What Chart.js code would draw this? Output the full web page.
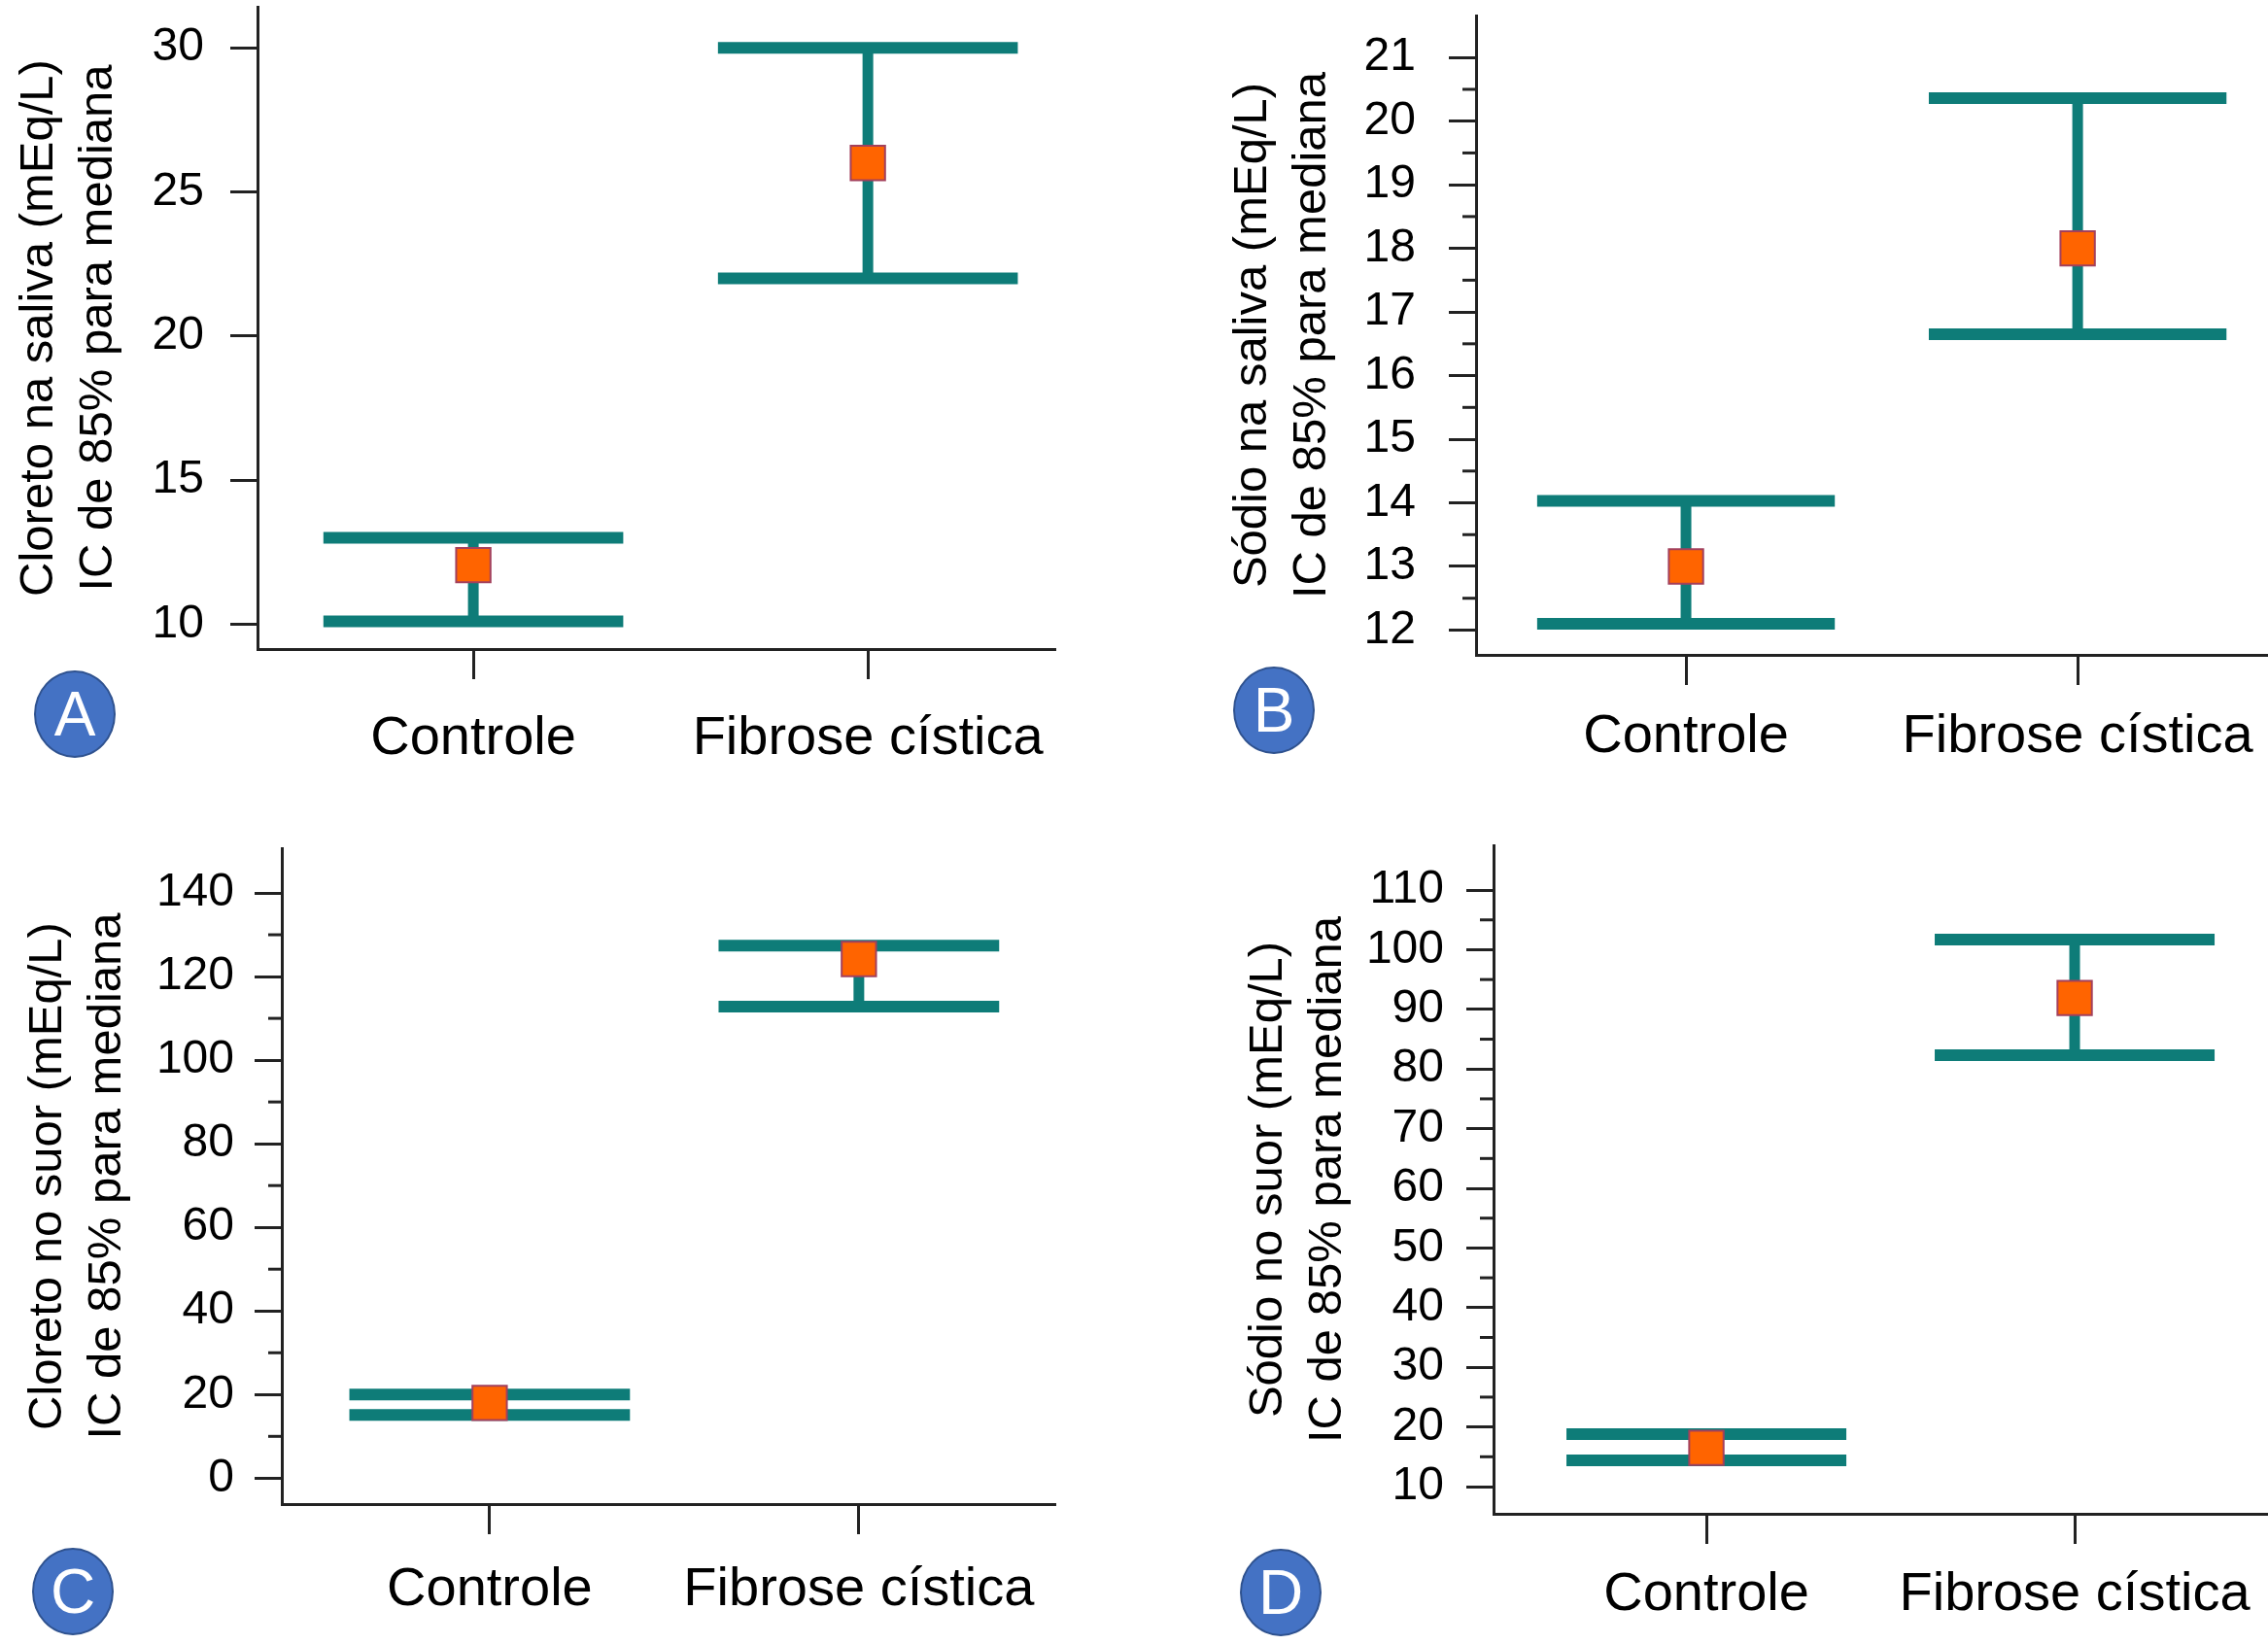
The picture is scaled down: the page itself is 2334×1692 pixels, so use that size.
<!DOCTYPE html>
<html lang="pt">
<head>
<meta charset="UTF-8">
<title>IC de 85% para mediana</title>
<script src="https://cdn.jsdelivr.net/npm/chart.js"></script>
<style>
  html, body { margin: 0; padding: 0; background: #fff; }
  #wrap { position: relative; width: 2334px; height: 1692px; overflow: hidden; }
  canvas { position: absolute; }
  .tag {
    position: absolute; width: 84px; height: 90px; border-radius: 50%;
    background: #4472c4; border: 2px solid #2f528f; box-sizing: border-box;
    color: #fff; font: 64px "Liberation Sans", Arial, sans-serif;
    display: flex; align-items: center; justify-content: center;
  }
</style>
</head>
<body>
<div id="wrap">
  <canvas id="gA" width="1167" height="846" style="left:0;top:0"></canvas>
  <canvas id="gB" width="1167" height="846" style="left:1167px;top:0"></canvas>
  <canvas id="gC" width="1167" height="846" style="left:0;top:846px"></canvas>
  <canvas id="gD" width="1167" height="846" style="left:1167px;top:846px"></canvas>
  <div class="tag" style="left:35px;top:690px">A</div>
  <div class="tag" style="left:1269px;top:686px">B</div>
  <div class="tag" style="left:33px;top:1593px">C</div>
  <div class="tag" style="left:1276px;top:1594px">D</div>
</div>
<script>
    const categorias = ["Controle", "Fibrose cística"];

    // A - cloreto na saliva
    const clSalivaMediana = [12.05, 26.0];
    const clSalivaInferior = [10.1, 22.0];
    const clSalivaSuperior = [13.0, 30.0];
    const ticksA = [10, 15, 20, 25, 30];
    const menoresA = [];

    // B - sodio na saliva
    const naSalivaMediana = [13.0, 18.0];
    const naSalivaInferior = [12.1, 16.65];
    const naSalivaSuperior = [14.03, 20.36];
    const ticksB = [12, 13, 14, 15, 16, 17, 18, 19, 20, 21];
    const menoresB = [12.5, 13.5, 14.5, 15.5, 16.5, 17.5, 18.5, 19.5, 20.5];

    // C - cloreto no suor
    const clSuorMediana = [18.0, 124.2];
    const clSuorInferior = [15.1, 112.8];
    const clSuorSuperior = [20.0, 127.4];
    const ticksC = [0, 20, 40, 60, 80, 100, 120, 140];
    const menoresC = [10, 30, 50, 70, 90, 110, 130];

    // D - sodio no suor
    const naSuorMediana = [16.5, 91.9];
    const naSuorInferior = [14.4, 82.3];
    const naSuorSuperior = [18.8, 101.7];
    const ticksD = [10, 20, 30, 40, 50, 60, 70, 80, 90, 100, 110];
    const menoresD = [15, 25, 35, 45, 55, 65, 75, 85, 95, 105];

    const TEAL = "#0e7c78";
    const EIXO = "#222222";
    const FONTE = "'Liberation Sans', Arial, sans-serif";
    const MEIA_BARRA = 0.38;

    // barras de erro (hastes e tampas) + ticks menores do eixo y
    const barrasErro = {
        id: "barrasErro",
        beforeDatasetsDraw(chart, args, opts) {
            const ctx = chart.ctx;
            const x = chart.scales.x, y = chart.scales.y;
            ctx.save();
            ctx.strokeStyle = TEAL;
            ctx.lineCap = "butt";
            opts.inferior.forEach((lo, i) => {
                const hi = opts.superior[i];
                const cx = x.getPixelForValue(i);
                ctx.lineWidth = 11;
                ctx.beginPath();
                ctx.moveTo(cx, y.getPixelForValue(lo));
                ctx.lineTo(cx, y.getPixelForValue(hi));
                ctx.stroke();
                ctx.lineWidth = 12;
                [lo, hi].forEach(v => {
                    const py = y.getPixelForValue(v);
                    ctx.beginPath();
                    ctx.moveTo(x.getPixelForValue(i - MEIA_BARRA), py);
                    ctx.lineTo(x.getPixelForValue(i + MEIA_BARRA), py);
                    ctx.stroke();
                });
            });
            ctx.restore();
        },
        afterDraw(chart, args, opts) {
            const ctx = chart.ctx;
            const y = chart.scales.y;
            ctx.save();
            ctx.strokeStyle = EIXO;
            ctx.lineWidth = 3;
            opts.menores.forEach(v => {
                const py = y.getPixelForValue(v);
                ctx.beginPath();
                ctx.moveTo(y.right - 14, py);
                ctx.lineTo(y.right, py);
                ctx.stroke();
            });
            ctx.restore();
        }
    };

    function grafico(id, cfg) {
        new Chart(document.getElementById(id), {
            type: "line",
            data: {
                datasets: [{
                    data: cfg.mediana.map((v, i) => ({ x: i, y: v })),
                    showLine: false,
                    pointStyle: "rect",
                    pointRadius: 25,
                    backgroundColor: "#ff6400",
                    borderColor: "#a3405c",
                    borderWidth: 2,
                    clip: false
                }]
            },
            plugins: [barrasErro],
            options: {
                responsive: false,
                devicePixelRatio: 1,
                animation: false,
                events: [],
                layout: { autoPadding: false, padding: { top: cfg.topo, right: cfg.direita, left: 0, bottom: 0 } },
                plugins: {
                    legend: { display: false },
                    tooltip: { enabled: false },
                    barrasErro: { inferior: cfg.inferior, superior: cfg.superior, menores: cfg.menores }
                },
                scales: {
                    x: {
                        type: "linear",
                        min: cfg.xmin,
                        max: cfg.xmax,
                        afterBuildTicks: s => { s.ticks = [0, 1].map(v => ({ value: v })); },
                        afterFit: s => { s.height = cfg.altX; s.paddingLeft = 0; s.paddingRight = 0; },
                        ticks: {
                            autoSkip: false,
                            maxRotation: 0,
                            padding: cfg.padX,
                            color: "#000",
                            font: { family: FONTE, size: 56 },
                            callback: v => categorias[v]
                        },
                        grid: { drawOnChartArea: false, tickLength: 31, tickWidth: 3, tickColor: EIXO },
                        border: { color: EIXO, width: 3 }
                    },
                    y: {
                        min: cfg.ymin,
                        max: cfg.ymax,
                        afterBuildTicks: s => { s.ticks = cfg.ticks.map(v => ({ value: v })); },
                        afterFit: s => { s.width = cfg.largY; s.paddingTop = 0; s.paddingBottom = 0; },
                        ticks: {
                            autoSkip: false,
                            padding: cfg.padY,
                            color: "#000",
                            font: { family: FONTE, size: 48, lineHeight: 0.3 }
                        },
                        grid: { drawOnChartArea: false, tickLength: 28, tickWidth: 3, tickColor: EIXO },
                        border: { color: EIXO, width: 3 },
                        title: {
                            display: true,
                            text: cfg.titulo,
                            color: "#000",
                            font: { family: FONTE, size: 49, lineHeight: 1.25 },
                            padding: { top: cfg.padTitulo, bottom: 0 }
                        }
                    }
                }
            }
        });
    }

    grafico("gA", {
        mediana: clSalivaMediana, inferior: clSalivaInferior, superior: clSalivaSuperior,
        ticks: ticksA, menores: menoresA, ymin: 9.14, ymax: 31.42, xmin: -0.547, xmax: 1.475,
        titulo: ["Cloreto na saliva (mEq/L)", "IC de 85% para mediana"],
        topo: 7, direita: 81, largY: 265, altX: 178, padX: 28, padY: 27, padTitulo: 10
    });
    grafico("gB", {
        mediana: naSalivaMediana, inferior: naSalivaInferior, superior: naSalivaSuperior,
        ticks: ticksB, menores: menoresB, ymin: 11.61, ymax: 21.66, xmin: -0.536, xmax: 1.486,
        titulo: ["Sódio na saliva (mEq/L)", "IC de 85% para mediana"],
        topo: 16, direita: 0, largY: 352, altX: 172, padX: 20, padY: 34, padTitulo: 92
    });
    grafico("gC", {
        mediana: clSuorMediana, inferior: clSuorInferior, superior: clSuorSuperior,
        ticks: ticksC, menores: menoresC, ymin: -6.2, ymax: 150.7, xmin: -0.563, xmax: 1.532,
        titulo: ["Cloreto no suor (mEq/L)", "IC de 85% para mediana"],
        topo: 27, direita: 81, largY: 290, altX: 144, padX: 24, padY: 21, padTitulo: 19
    });
    grafico("gD", {
        mediana: naSuorMediana, inferior: naSuorInferior, superior: naSuorSuperior,
        ticks: ticksD, menores: menoresD, ymin: 5.44, ymax: 117.5, xmin: -0.578, xmax: 1.525,
        titulo: ["Sódio no suor (mEq/L)", "IC de 85% para mediana"],
        topo: 24, direita: 0, largY: 370, altX: 134, padX: 19, padY: 23, padTitulo: 108
    });
</script>
</body>
</html>
